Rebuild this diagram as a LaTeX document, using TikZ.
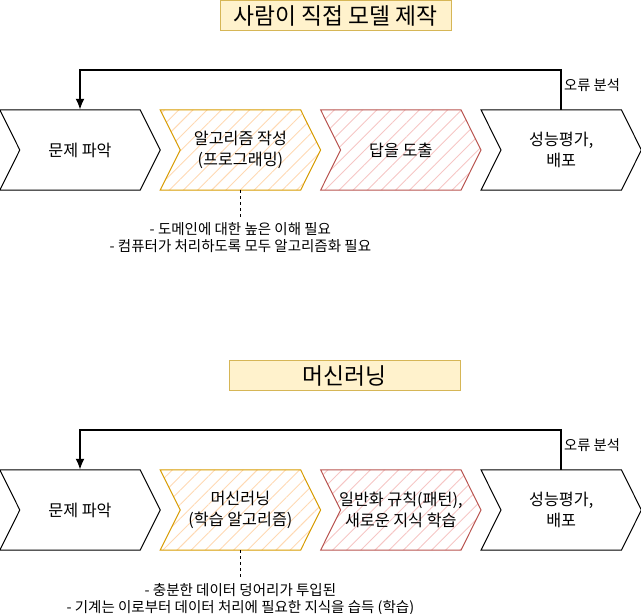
\documentclass[tikz,border=0pt]{standalone}
\usepackage{fontspec}
\setmainfont{Noto Sans CJK KR}
\usetikzlibrary{arrows.meta,positioning,patterns.meta,backgrounds}

\tikzset{
  stepbox/.style={minimum width=160pt, minimum height=80pt, inner sep=0pt,
    align=center, font=\fontsize{16.2}{20.5}\selectfont},
  titlebox/.style={draw=titleline, fill=titlefill, line width=1pt,
    minimum width=231pt, minimum height=30pt, inner sep=0pt,
    font=\fontsize{22.8}{26}\selectfont},
  notebox/.style={align=center, inner xsep=0pt, inner ysep=5.6pt,
    font=\fontsize{14.5}{17}\selectfont},
  errlabel/.style={inner sep=0pt, font=\fontsize{14.3}{16}\selectfont},
  feedback/.style={line width=2pt, -{Latex[length=11pt,width=9pt]}},
  chevplain/.style={draw=black, fill=white, line width=1pt},
  chevorange/.style={draw=orangeline, line width=1pt,
    pattern={Lines[angle=45,distance=10pt,line width=0.9pt]}, pattern color=orangehatch},
  chevred/.style={draw=redline, line width=1pt,
    pattern={Lines[angle=45,distance=10pt,line width=0.9pt]}, pattern color=redhatch}
}

\begin{document}
\begin{tikzpicture}[x=1pt,y=-1pt]
    % Colores
    \definecolor{titlefill}{HTML}{FFF2CC}
    \definecolor{titleline}{HTML}{D6B656}
    \definecolor{orangeline}{HTML}{D79B00}
    \definecolor{orangehatch}{HTML}{FFD9B3}
    \definecolor{redline}{HTML}{B85450}
    \definecolor{redhatch}{HTML}{F6C6C5}

    \useasboundingbox (0,0) rectangle (641,614);

    % Sistema 1: modelo hecho a mano
    \node[titlebox] (t1) at (335.5,15.5) {사람이 직접 모델 제작};

    \node[stepbox] (a1) at (80,150) {문제 파악};
    \node[stepbox, right=0pt of a1] (a2) {알고리즘 작성\\(프로그래밍)};
    \node[stepbox, right=0pt of a2] (a3) {답을 도출};
    \node[stepbox, right=0pt of a3] (a4) {성능평가,\\배포};

    \draw[feedback] (a4.north) -- ++(0,-40) node[errlabel, pos=0.625, right=2pt] {오류 분석} -| (a1.north);

    \node[notebox, below=27pt of a2] (n1) {- 도메인에 대한 높은 이해 필요\\- 컴퓨터가 처리하도록 모두 알고리즘화 필요};
    \draw[dashed] (a2.south) -- (n1.north);

    % Sistema 2: aprendizaje automático
    \node[titlebox] (t2) at (344.5,375.5) {머신러닝};

    \node[stepbox] (b1) at (80,510) {문제 파악};
    \node[stepbox, right=0pt of b1] (b2) {머신러닝\\(학습 알고리즘)};
    \node[stepbox, right=0pt of b2] (b3) {일반화 규칙(패턴),\\새로운 지식 학습};
    \node[stepbox, right=0pt of b3] (b4) {성능평가,\\배포};

    \draw[feedback] (b4.north) -- ++(0,-40) node[errlabel, pos=0.625, right=2pt] {오류 분석} -| (b1.north);

    \node[notebox, below=27pt of b2] (n2) {- 충분한 데이터 덩어리가 투입된\\- 기계는 이로부터 데이터 처리에 필요한 지식을 습득 (학습)};
    \draw[dashed] (b2.south) -- (n2.north);

    % Flechas (chevrones) detrás del texto
    \begin{scope}[on background layer]
    \foreach \n/\s in {a1/chevplain,a2/chevorange,a3/chevred,a4/chevplain,
                       b1/chevplain,b2/chevorange,b3/chevred,b4/chevplain}
    {
        \draw[\s] (\n.north west) -- ([xshift=-20pt]\n.north east) -- (\n.east)
            -- ([xshift=-20pt]\n.south east) -- (\n.south west) -- ([xshift=20pt]\n.west) -- cycle;
    }
    \end{scope}

\end{tikzpicture}
\end{document}
